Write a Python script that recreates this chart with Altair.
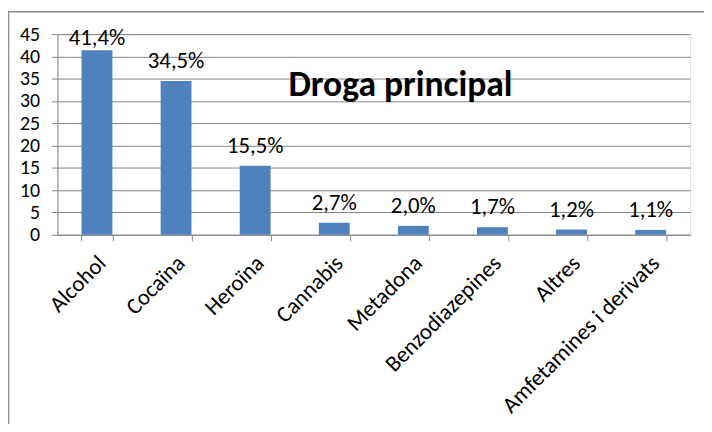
import altair as alt
import pandas as pd

categories = ["Alcohol", "Cocaïna", "Heroïna", "Cannabis", "Metadona",
              "Benzodiazepines", "Altres", "Amfetamines i derivats"]
values = [41.4, 34.5, 15.5, 2.7, 2.0, 1.7, 1.2, 1.1]
labels = ["41,4%", "34,5%", "15,5%", "2,7%", "2,0%", "1,7%", "1,2%", "1,1%"]
y_ticks = [0, 5, 10, 15, 20, 25, 30, 35, 40, 45]
title_text = "Droga principal"

FONT = "Carlito, Lato, Open Sans, sans-serif"
W, H = 640, 203

df = pd.DataFrame({"cat": categories, "v": values, "lab": labels})

xscale = alt.Scale(paddingInner=0.61, paddingOuter=0.305)
yscale = alt.Scale(domain=[0, 45], nice=False)

x = alt.X("cat:N", sort=categories, title=None, scale=xscale,
          axis=alt.Axis(labelAngle=-45, labelFontSize=23, labelFont=FONT,
                        labelColor="#000000", tickBand="extent", tickSize=6,
                        domainColor="#868686", tickColor="#868686",
                        labelPadding=11, labelOffset=-3, grid=False,
                        labelOverlap=False, labelLimit=0))
y = alt.Y("v:Q", title=None, scale=yscale,
          axis=alt.Axis(values=y_ticks, labelFontSize=20, labelFont=FONT,
                        labelColor="#000000", tickSize=6, labelPadding=12,
                        labelOverlap=False, labelFlush=False,
                        domainColor="#868686", tickColor="#868686",
                        gridColor="#868686", gridWidth=1, gridOpacity=1))

bars = alt.Chart(df).mark_bar(color="#4F81BD").encode(x=x, y=y)

text = alt.Chart(df).transform_calculate(
    ly="min(datum.v + 8/4.5, 45 - 16/4.5)"
).mark_text(baseline="bottom", fontSize=23, font=FONT, color="#000000").encode(
    x=alt.X("cat:N", sort=categories, scale=xscale, axis=None),
    y=alt.Y("ly:Q", scale=yscale, axis=None),
    text="lab:N",
)

title = alt.Chart(pd.DataFrame({"t": [title_text]})).mark_text(
    fontSize=36, fontWeight="bold", font=FONT, color="#000000"
).encode(x=alt.value(347), y=alt.value(52), text="t:N")

border = alt.Chart(pd.DataFrame({"t": [0]})).mark_rect(
    fill=None, stroke="#8c8c8c", strokeWidth=1.5, clip=False
).encode(x=alt.value(-49.5), x2=alt.value(W + 40),
         y=alt.value(-22.5), y2=alt.value(H + 240))

chart = alt.layer(border, bars, text, title).resolve_axis(
    x="independent", y="independent"
).properties(
    width=W, height=H,
    padding={"left": 50, "top": 24, "right": 14, "bottom": 189},
    autosize=alt.AutoSizeParams(type="none"),
).configure_view(stroke=None).configure(background="white")

chart.save("out.html", embed_options={"renderer": "svg", "actions": False})
